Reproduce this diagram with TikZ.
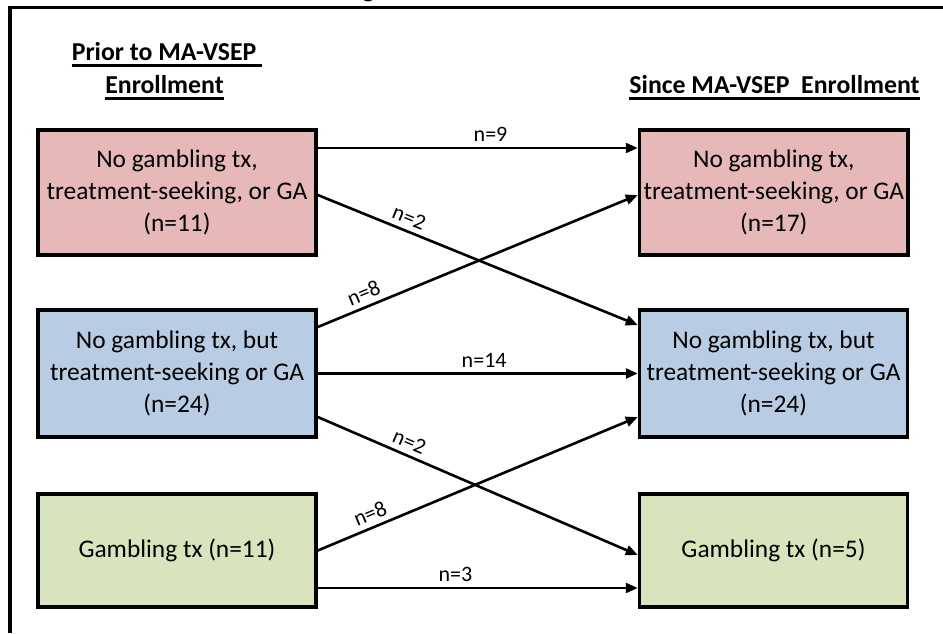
\documentclass[tikz,border=0pt]{standalone}
\usepackage{fontspec}
\setmainfont{Carlito}
\usetikzlibrary{arrows.meta, positioning}
\definecolor{BoxR}{RGB}{230,184,183}
\definecolor{BoxB}{RGB}{184,204,228}
\definecolor{BoxG}{RGB}{216,228,188}
\newcommand{\hdline}[1]{\setbox0\hbox{#1}\rlap{\rule[-3.5pt]{\wd0}{1.5pt}}\box0}

\begin{document}
\begin{tikzpicture}[x=0.5pt, y=-0.5pt,
  grp/.style={draw=black, line width=1.75pt, fill=#1, align=center,
              minimum width=139pt, inner sep=2pt,
              font=\fontsize{12.7}{16}\selectfont},
  hd/.style={anchor=base, inner sep=0pt,
             font=\fontsize{12.9}{15.5}\selectfont\bfseries},
  arr/.style={-{Triangle[length=6pt, width=5pt]}, line width=1.3pt},
  lbl/.style={font=\fontsize{11}{13}\selectfont, inner sep=2.5pt}
]
\useasboundingbox (0,0) rectangle (943,633);

% Frame and cut-off title
\draw[line width=1.9pt] (10,633) -- (10,7.5) -- (943,7.5);
\begin{scope}
  \clip (0,0) rectangle (943,5);
  \node[anchor=base west, inner sep=0pt,
        font=\fontsize{12.9}{15}\selectfont\bfseries] (ttl) at (362,-2.5) {g};
\end{scope}

% Column headers
\node[hd] (hdPrior) at (167,60) {\hdline{Prior to MA-VSEP\ }};
\node[hd] (hdEnrL) at (164.5,93) {\hdline{Enrollment}};
\node[hd, anchor=base east] (hdSince) at (920,93) {\hdline{Since MA-VSEP\ \ Enrollment}};

% Before enrollment
\node[grp=BoxR, minimum height=62.5pt] (redL) at (177,192.5)
  {No gambling tx,\\treatment-seeking, or GA\\(n=11)};
\node[grp=BoxB, minimum height=63.5pt] (bluL) at (177,373.5)
  {No gambling tx, but\\treatment-seeking or GA\\(n=24)};
\node[grp=BoxG, minimum height=56.5pt] (grnL) at (177,550.5)
  {Gambling tx (n=11)};

% Since enrollment
\node[grp=BoxR, minimum width=134pt, minimum height=62.5pt, right=160pt of redL] (redR)
  {No gambling tx,\\treatment-seeking, or GA\\(n=17)};
\node[grp=BoxB, minimum width=134pt, minimum height=63.5pt, right=160pt of bluL] (bluR)
  {No gambling tx, but\\treatment-seeking or GA\\(n=24)};
\node[grp=BoxG, minimum width=134pt, minimum height=56.5pt, right=160pt of grnL] (grnR)
  {Gambling tx (n=5)};

% Transitions
\draw[arr] ([yshift=22.25pt]redL.east) -- ([yshift=22.25pt]redR.west)
  node[lbl, pos=0.54, above]{n=9};
\draw[arr] ([yshift=-1.25pt]redL.east) -- ([yshift=24.25pt]bluR.west)
  node[lbl, pos=0.27, above, sloped]{n=2};
\draw[arr] ([yshift=23.25pt]bluL.east) -- ([yshift=-1.25pt]redR.west)
  node[lbl, pos=0.16, above, sloped]{n=8};
\draw[arr] (bluL.east) -- (bluR.west)
  node[lbl, pos=0.52, above]{n=14};
\draw[arr] ([yshift=-21.75pt]bluL.east) -- ([yshift=-2.25pt]grnR.west)
  node[lbl, pos=0.27, above, sloped]{n=2};
\draw[arr] (grnL.east) -- ([yshift=-21.75pt]bluR.west)
  node[lbl, pos=0.18, above, sloped]{n=8};
\draw[arr] ([yshift=-18.75pt]grnL.east) -- ([yshift=-18.75pt]grnR.west)
  node[lbl, pos=0.43, above]{n=3};
\end{tikzpicture}
\end{document}
